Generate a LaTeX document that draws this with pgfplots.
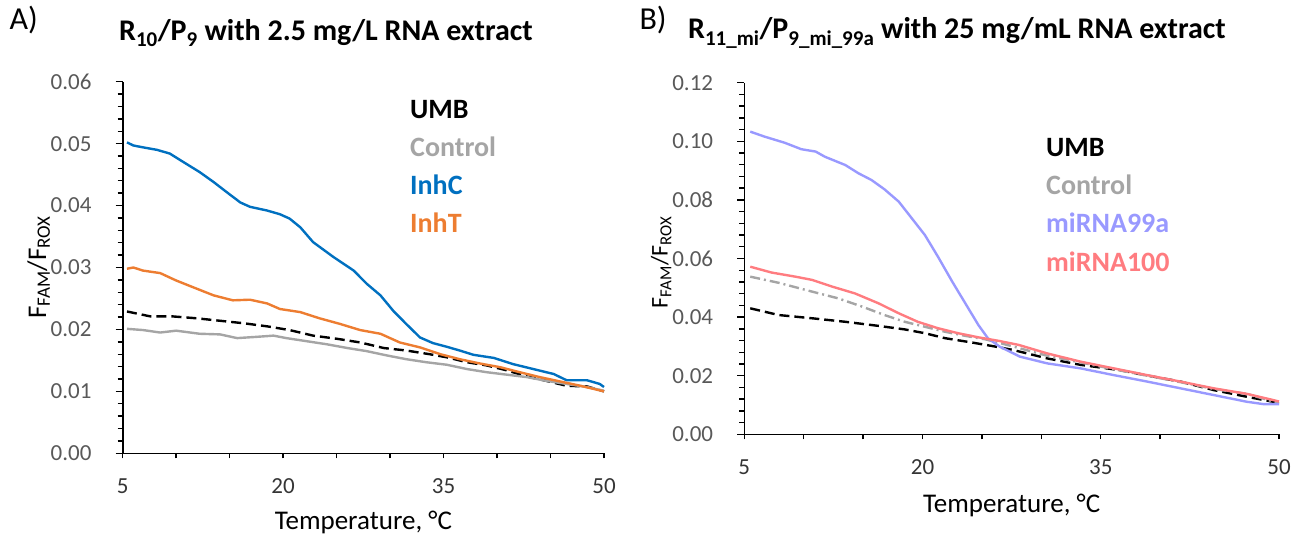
\documentclass[border=0pt]{standalone}
\usepackage{pgfplots}
\pgfplotsset{compat=1.18}
\usepackage{fontspec}
\setmainfont{Carlito}

\definecolor{umb}{HTML}{000000}
\definecolor{ctrl}{HTML}{A5A5A5}
\definecolor{inhc}{HTML}{0070C0}
\definecolor{inht}{HTML}{ED7D31}
\definecolor{mir99}{HTML}{9999FF}
\definecolor{mir100}{HTML}{FF7C80}
\definecolor{ticktext}{HTML}{595959}

\pgfplotsset{
  panel/.style={
    scale only axis,
    axis x line*=bottom, axis y line*=left,
    axis line style={black, line width=1.6pt},
    tick align=outside,
    major tick length=7pt, minor tick length=5pt,
    every tick/.style={black, line width=1.4pt},
    xtick style={/pgfplots/major tick length=5pt},
    xmin=5, xmax=50,
    xtick={5,10,...,50},
    xticklabels={5,,,20,,,35,,,50},
    minor y tick num=4,
    scaled y ticks=false,
    /pgf/number format/assume math mode=true,
    yticklabel style={/pgf/number format/fixed, /pgf/number format/fixed zerofill,
      /pgf/number format/precision=2, font=\fontsize{23}{26}\selectfont, text=ticktext,
      anchor=east, inner sep=0pt, xshift=-24pt},
    xticklabel style={font=\fontsize{23}{26}\selectfont, text=ticktext!60!black,
      anchor=north, inner sep=0pt, yshift=-18pt},
    xlabel={Temperature, °C},
    ylabel={F\textsubscript{FAM}/F\textsubscript{ROX}},
    clip=false,
  },
  curve/.style={line width=2.4pt, line join=round},
}

\begin{document}
\begin{tikzpicture}
\useasboundingbox (0pt,0pt) rectangle (1304pt,539pt);

% ---------------- Panel A ----------------
\begin{axis}[panel,
  at={(122.7pt,85.7pt)}, anchor=south west,
  width=481.3pt, height=371.6pt,
  ymin=0, ymax=0.06, ytick={0,0.01,...,0.06},
  every axis x label/.style={at={(rel axis cs:0.5,0)}, yshift=-69pt, anchor=center,
    font=\fontsize{27}{30}\selectfont},
  every axis y label/.style={at={(rel axis cs:0,0.5)}, xshift=-84pt, rotate=90, anchor=center,
    font=\fontsize{27}{30}\selectfont},
]
% UMB
\addplot[curve, umb, dash pattern=on 10pt off 5pt] coordinates {
(5.4,0.0229)(7.6,0.0221)(9.7,0.0221)(11.9,0.0218)(14.1,0.0214)(16.3,0.0210)
(18.5,0.0205)(20.6,0.0199)(22.8,0.0190)(25.0,0.0185)(27.2,0.0179)(29.4,0.0170)
(31.5,0.0166)(33.7,0.0160)(35.3,0.0155)(37.2,0.0147)(39.0,0.0142)(40.9,0.0134)
(42.8,0.0124)(44.6,0.0117)(46.5,0.0109)(48.4,0.0108)(50,0.0100)};
% Control
\addplot[curve, ctrl] coordinates {
(5.4,0.0201)(6.9,0.0199)(8.5,0.0195)(10.0,0.0198)(12.2,0.0193)(14.1,0.0192)
(15.7,0.0186)(17.5,0.0188)(19.1,0.0190)(20.3,0.0186)(22.2,0.0181)(24.1,0.0176)
(26.0,0.0170)(27.8,0.0165)(29.7,0.0158)(31.5,0.0152)(33.4,0.0147)(35.3,0.0143)
(37.2,0.0136)(39.0,0.0131)(40.9,0.0127)(42.8,0.0123)(44.6,0.0117)(46.5,0.0112)
(48.4,0.0107)(50,0.0101)};
% InhC
\addplot[curve, inhc] coordinates {
(5.4,0.0502)(6.0,0.0497)(6.9,0.0494)(8.2,0.0490)(9.4,0.0484)(10.7,0.0470)
(12.2,0.0454)(13.5,0.0438)(14.7,0.0422)(16.0,0.0405)(16.9,0.0398)(18.5,0.0392)
(19.7,0.0386)(20.6,0.0379)(21.6,0.0365)(22.8,0.0341)(24.7,0.0317)(26.6,0.0295)
(27.8,0.0274)(29.1,0.0255)(30.3,0.0230)(31.5,0.0209)(32.8,0.0187)(34.0,0.0178)
(35.3,0.0172)(36.5,0.0166)(37.8,0.0159)(39.7,0.0154)(41.5,0.0144)(43.4,0.0136)
(45.3,0.0128)(46.5,0.0118)(48.4,0.0118)(49.6,0.0112)(50,0.0107)};
% InhT
\addplot[curve, inht] coordinates {
(5.4,0.0298)(6.0,0.0300)(6.9,0.0295)(8.5,0.0291)(10.0,0.0279)(11.6,0.0268)
(13.5,0.0255)(15.3,0.0247)(16.9,0.0248)(18.5,0.0242)(19.7,0.0233)(21.6,0.0228)
(23.4,0.0218)(25.3,0.0209)(27.2,0.0199)(29.1,0.0193)(30.9,0.0179)(32.8,0.0171)
(34.7,0.0160)(36.5,0.0152)(38.4,0.0145)(40.3,0.0139)(42.1,0.0131)(44.0,0.0123)
(45.9,0.0116)(47.8,0.0109)(50,0.0100)};
\end{axis}

% ---------------- Panel B ----------------
\begin{axis}[panel,
  at={(744.3pt,104.7pt)}, anchor=south west,
  width=534.7pt, height=351.6pt,
  ymin=0, ymax=0.12, ytick={0,0.02,...,0.12},
  every axis x label/.style={at={(rel axis cs:0.5,0)}, yshift=-71pt, anchor=center,
    font=\fontsize{27}{30}\selectfont},
  every axis y label/.style={at={(rel axis cs:0,0.5)}, xshift=-83pt, yshift=-4pt, rotate=90,
    anchor=center, font=\fontsize{24}{28}\selectfont},
]
% UMB
\addplot[curve, umb, dash pattern=on 10pt off 5pt] coordinates {
(5.5,0.0430)(7.9,0.0407)(10.7,0.0396)(13.5,0.0384)(16.3,0.0370)(18.5,0.0358)
(20.2,0.0345)(21.9,0.0328)(24.2,0.0313)(25.9,0.0301)(27.6,0.0288)(30.5,0.0259)
(33.3,0.0237)(36.6,0.0219)(39.4,0.0197)(41.7,0.0180)(44.5,0.0151)(47.3,0.0128)
(49.5,0.0111)(50,0.0105)};
% Control
\addplot[curve, ctrl, dash pattern=on 10pt off 4pt on 2pt off 4pt] coordinates {
(5.5,0.0538)(7.9,0.0517)(10.7,0.0487)(12.9,0.0464)(14.9,0.0436)(16.8,0.0407)
(18.5,0.0384)(20.2,0.0367)(21.9,0.0350)(23.6,0.0336)(25.3,0.0324)(27.6,0.0300)
(30.5,0.0268)(33.3,0.0245)(36.1,0.0222)(38.9,0.0200)(41.7,0.0178)(44.5,0.0155)
(47.3,0.0138)(49.5,0.0112)(50,0.0105)};
% miRNA99a
\addplot[curve, mir99] coordinates {
(5.5,0.1033)(6.7,0.1016)(8.4,0.0995)(9.8,0.0973)(11.0,0.0965)(11.8,0.0947)
(13.5,0.0919)(14.6,0.0891)(15.7,0.0868)(16.8,0.0836)(18.0,0.0794)(19.1,0.0737)
(20.2,0.0680)(21.3,0.0606)(22.5,0.0521)(23.6,0.0447)(24.7,0.0373)(25.5,0.0328)
(26.5,0.0299)(28.2,0.0265)(30.5,0.0242)(33.3,0.0225)(36.1,0.0202)(38.9,0.0180)
(41.7,0.0157)(44.5,0.0134)(47.3,0.0111)(48.7,0.0103)(50,0.0103)};
% miRNA100
\addplot[curve, mir100] coordinates {
(5.5,0.0572)(7.3,0.0552)(9.3,0.0538)(10.7,0.0527)(12.4,0.0504)(14.3,0.0481)
(16.3,0.0447)(18.0,0.0413)(19.6,0.0384)(21.3,0.0362)(23.0,0.0345)(24.7,0.0331)
(26.4,0.0319)(28.1,0.0305)(30.5,0.0276)(33.3,0.0248)(36.1,0.0225)(38.9,0.0202)
(41.7,0.0180)(44.5,0.0157)(47.3,0.0138)(49.5,0.0117)(50,0.0112)};
\end{axis}

% ---------------- Titles and panel letters ----------------
\node[anchor=west, font=\fontsize{32}{36}\selectfont] at (6pt,519pt) {A)};
\node[anchor=west, font=\fontsize{32}{36}\selectfont] at (636pt,519pt) {B)};
\node[anchor=center, font=\fontsize{30}{34}\selectfont\bfseries] at (326pt,506pt)
  {R\textsubscript{10}/P\textsubscript{9} with 2.5 mg/L RNA extract};
\node[anchor=center, font=\fontsize{30}{34}\selectfont\bfseries] at (957pt,506pt)
  {R\textsubscript{11\_mi}/P\textsubscript{9\_mi\_99a} with 25 mg/mL RNA extract};

% ---------------- Series keys ----------------
\begin{scope}[every node/.style={anchor=west, font=\fontsize{28}{30}\selectfont\bfseries, inner sep=0pt}]
\node[text=umb]  at (410pt,429.7pt) {UMB};
\node[text=ctrl] at (410pt,392.3pt) {Control};
\node[text=inhc] at (410pt,354pt) {InhC};
\node[text=inht] at (410pt,316.3pt) {InhT};
\node[text=umb]    at (1046pt,391.7pt) {UMB};
\node[text=ctrl]   at (1046pt,354pt) {Control};
\node[text=mir99]  at (1046pt,316pt) {miRNA99a};
\node[text=mir100] at (1046pt,277.3pt) {miRNA100};
\end{scope}
\end{tikzpicture}
\end{document}
